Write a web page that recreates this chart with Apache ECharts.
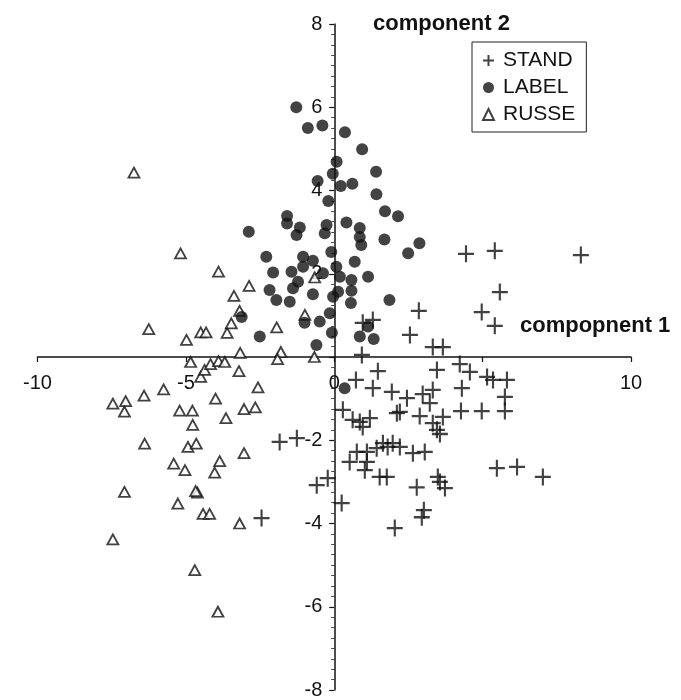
<!DOCTYPE html>
<html>
<head>
<meta charset="utf-8">
<script src="https://cdn.jsdelivr.net/npm/echarts@6/dist/echarts.min.js"></script>
<style>
html,body{margin:0;padding:0;background:#fff;}
#chart{width:681px;height:700px;}
</style>
</head>
<body>
<div id="chart"></div>
<script>
// ---- data ----
var seriesNames = ['STAND', 'LABEL', 'RUSSE'];
var xTickValues = [-10, -5, 0, 5, 10];
var xTickLabels = ['-10', '-5', '0', '', '10'];
var yTickValues = [-8, -6, -4, -2, 0, 2, 4, 6, 8];
var yTickLabels = ['-8', '-6', '-4', '-2', '', '2', '4', '6', '8'];
var xAxisTitle = 'compopnent 1';
var yAxisTitle = 'component 2';

var standData = [
  [4.44,2.48],[5.41,2.55],[8.31,2.45],[5.58,1.56],[4.97,1.08],[5.41,0.75],[2.85,1.11],[2.55,0.53],
  [3.32,0.24],[3.66,0.24],[0.96,0.82],[1.30,0.89],[0.93,0.05],[1.47,-0.34],[0.73,-0.55],[1.30,-0.75],
  [1.94,-0.84],[2.45,-0.99],[2.98,-0.89],[3.32,-0.79],[3.22,-1.11],[3.46,-0.31],[4.23,-0.17],[4.57,-0.36],
  [5.15,-0.48],[5.35,-0.55],[5.82,-0.55],[4.30,-0.75],[5.75,-0.96],[4.97,-1.30],[5.75,-1.30],[4.27,-1.30],
  [3.66,-1.44],[3.32,-1.59],[3.56,-1.85],[2.88,-1.42],[2.21,-1.32],[1.20,-1.47],[0.86,-1.56],[0.29,-1.27],
  [0.62,-1.51],[0.96,-1.68],[2.11,-1.35],[3.46,-1.75],[1.64,-2.07],[1.97,-2.07],[1.80,-2.16],[2.21,-2.16],
  [2.65,-2.31],[3.05,-2.28],[0.76,-2.28],[1.10,-2.28],[1.43,-2.19],[0.52,-2.52],[1.10,-2.52],[1.03,-2.72],
  [1.53,-2.88],[1.77,-2.88],[-0.59,-3.08],[-0.22,-2.91],[2.78,-3.13],[3.56,-3.00],[3.73,-3.15],[3.49,-2.88],
  [5.48,-2.67],[6.16,-2.64],[7.03,-2.88],[0.25,-3.51],[3.02,-3.68],[2.95,-3.85],[2.04,-4.11],[-1.84,-2.04],
  [-1.26,-1.95],[-2.45,-3.87]
];

var labelData = [
  [-1.28,6.00],[-0.89,5.50],[-0.40,5.56],[0.36,5.40],[0.94,4.99],[0.08,4.69],[-0.05,4.40],[1.41,4.45],
  [-0.56,4.23],[0.22,4.11],[0.61,4.16],[-0.20,3.75],[1.42,3.91],[1.71,3.50],[2.15,3.38],[-1.59,3.39],
  [-1.59,3.21],[-1.16,3.11],[-1.27,2.93],[-2.88,3.01],[-0.26,3.17],[-0.32,2.97],[0.41,3.23],[0.86,3.10],
  [0.86,2.88],[0.91,2.69],[1.69,2.82],[2.87,2.73],[2.49,2.49],[-2.29,2.41],[-1.05,2.41],[-0.72,2.31],
  [-0.10,2.52],[0.69,2.29],[-1.05,2.17],[-2.06,2.03],[-1.44,2.05],[-0.38,2.01],[0.07,2.17],[0.19,1.93],
  [0.58,1.85],[1.14,1.93],[-1.22,1.81],[-1.39,1.65],[-2.18,1.61],[-1.95,1.37],[-1.50,1.33],[-0.72,1.51],
  [-0.04,1.45],[0.13,1.57],[0.58,1.59],[0.56,1.30],[1.86,1.37],[-0.15,1.05],[-0.49,0.85],[-1.00,0.82],
  [-2.51,0.49],[-0.08,0.58],[0.86,0.49],[1.33,0.43],[1.14,0.73],[-0.60,0.29],[-3.12,0.96],[0.35,-0.75]
];

var russeData = [
  [-6.75,4.43],[-5.18,2.49],[-3.90,2.05],[-2.87,1.71],[-3.38,1.47],[-3.19,1.11],[-6.25,0.67],[-4.98,0.41],
  [-4.50,0.59],[-4.32,0.59],[-3.61,0.58],[-3.47,0.81],[-1.94,0.71],[-0.99,1.01],[-0.66,1.91],[-3.17,0.10],
  [-1.80,0.12],[-1.91,-0.05],[-0.67,0.00],[-4.84,-0.12],[-4.50,-0.48],[-4.37,-0.31],[-4.17,-0.17],[-3.90,-0.10],
  [-3.69,-0.12],[-3.21,-0.34],[-2.57,-0.73],[-5.75,-0.78],[-6.41,-0.93],[-7.46,-1.12],[-7.03,-1.06],[-7.07,-1.31],
  [-4.00,-1.00],[-5.21,-1.29],[-4.78,-1.29],[-4.77,-1.63],[-3.04,-1.25],[-2.66,-1.21],[-3.65,-1.47],[-6.39,-2.08],
  [-4.93,-2.16],[-4.65,-2.08],[-3.04,-2.31],[-5.41,-2.56],[-5.03,-2.72],[-3.86,-2.50],[-4.03,-2.78],[-7.07,-3.24],
  [-5.27,-3.52],[-4.61,-3.26],[-4.67,-3.22],[-4.42,-3.77],[-4.20,-3.77],[-3.19,-4.00],[-7.46,-4.38],[-4.70,-5.12],
  [-3.92,-6.12]
];

// ---- chart ----
var FONT = "'Liberation Sans', Arial, Helvetica, sans-serif";
var INK = '#121212';
var GRID = {left: 37.5, right: 50, top: 24, bottom: 10};
var W = 681, H = 700;
var X_MIN = -10, X_MAX = 10, Y_MIN = -8, Y_MAX = 8;
// place each axis where the other axis is zero (axes cross at the origin)
var gridW = W - GRID.left - GRID.right, gridH = H - GRID.top - GRID.bottom;
var yAxisOffset = -gridW * (0 - X_MIN) / (X_MAX - X_MIN);
var xAxisOffset = -gridH * (0 - Y_MIN) / (Y_MAX - Y_MIN);

function lookup(values, labels) {
  return function (v) {
    for (var i = 0; i < values.length; i++) {
      if (Math.abs(values[i] - v) < 1e-9) return labels[i];
    }
    return '';
  };
}

var chart = echarts.init(document.getElementById('chart'), null, {renderer: 'canvas'});
var option = {
  backgroundColor: '#ffffff',
  animation: false,
  grid: {left: GRID.left, right: GRID.right, top: GRID.top, bottom: GRID.bottom, containLabel: false, outerBoundsMode: 'none'},
  xAxis: {
    type: 'value', min: X_MIN, max: X_MAX, interval: 5, position: 'bottom', offset: xAxisOffset,
    axisLine: {onZero: false, lineStyle: {color: INK, width: 1.5}},
    axisTick: {show: true, length: 5, lineStyle: {color: INK, width: 1.2}},
    splitLine: {show: false},
    axisLabel: {formatter: lookup(xTickValues, xTickLabels), fontSize: 20, color: INK, fontFamily: FONT, margin: 16}
  },
  yAxis: {
    type: 'value', min: Y_MIN, max: Y_MAX, interval: 2, position: 'left', offset: yAxisOffset,
    axisLine: {onZero: false, lineStyle: {color: INK, width: 1.5}},
    axisTick: {show: true, length: 5, lineStyle: {color: INK, width: 1.2}},
    minorTick: {show: true, splitNumber: 8, length: 3, lineStyle: {color: '#444', width: 1}},
    splitLine: {show: false},
    axisLabel: {formatter: lookup(yTickValues, yTickLabels), fontSize: 20, color: INK, fontFamily: FONT, margin: 12}
  },
  legend: {
    orient: 'vertical', left: 472, top: 42,
    padding: [8, 11, 7, 10], itemGap: 6, itemWidth: 11, itemHeight: 11,
    borderColor: '#222', borderWidth: 1,
    textStyle: {fontSize: 21, color: INK, fontFamily: FONT, padding: [0, 0, 0, 4]},
    data: seriesNames
  },
  graphic: [
    {type: 'text', left: 373, top: 13, style: {text: yAxisTitle, font: 'bold 22px ' + FONT, fill: INK}},
    {type: 'text', left: 520, top: 315, style: {text: xAxisTitle, font: 'bold 22px ' + FONT, fill: INK}}
  ],
  series: [
    {
      name: seriesNames[2], type: 'scatter', data: russeData, z: 2,
      symbol: 'triangle', symbolSize: [11, 10],
      itemStyle: {color: '#ffffff', borderColor: INK, borderWidth: 1.8}
    },
    {
      name: seriesNames[1], type: 'scatter', data: labelData, z: 3,
      symbol: 'circle', symbolSize: 12,
      itemStyle: {color: '#141414', borderWidth: 0}
    },
    {
      name: seriesNames[0], type: 'scatter', data: standData, z: 4,
      symbol: 'path://M0,10L20,10M10,0L10,20', symbolSize: [16, 17],
      itemStyle: {color: 'rgba(0,0,0,0)', borderColor: INK, borderWidth: 2.2}
    }
  ]
};
chart.setOption(option);
</script>
</body>
</html>
